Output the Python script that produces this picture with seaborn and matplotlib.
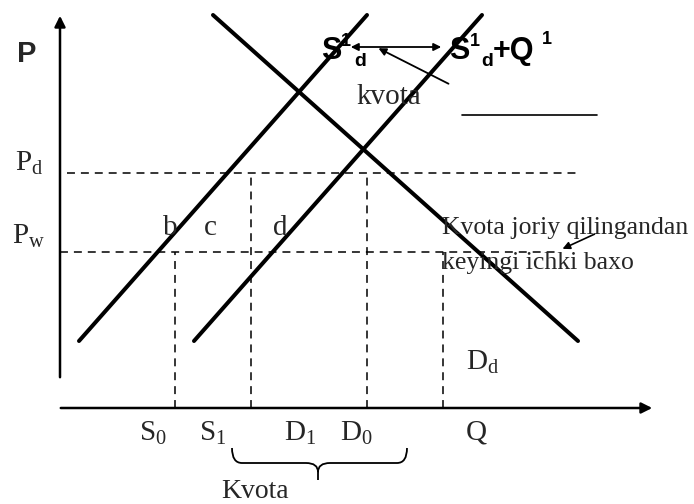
import numpy as np
import pandas as pd
import seaborn as sns
import matplotlib.pyplot as plt
from matplotlib.path import Path
from matplotlib.patches import PathPatch

sns.set_theme(style="white")
plt.rcParams['font.family'] = ['Liberation Serif', 'DejaVu Serif']
plt.rcParams['mathtext.fontset'] = 'custom'
plt.rcParams['mathtext.rm'] = 'Liberation Serif'
plt.rcParams['mathtext.it'] = 'Liberation Serif:italic'
plt.rcParams['mathtext.bf'] = 'Liberation Serif:bold'

# ----------------------------------------------------------
# diagram data (Q to the right, P upward, origin at axes corner)
# ----------------------------------------------------------
supply_q = [19, 307]
supply_p = [67, 393]
supply_quota_q = [134, 422]
supply_quota_p = [67, 393]
demand_q = [153, 518]
demand_p = [393, 67]

p_d = 235
p_w = 156
q_marks = [115, 191, 307, 383]          # S0, S1, D0, Q
q_marks_top = [p_w, p_d, p_d, p_w]
q_labels = ["S$_\\mathrm{0}$", "S$_\\mathrm{1}$", "D$_\\mathrm{1}$",
            "D$_\\mathrm{0}$", "Q"]
q_label_pos = [93, 153, 240, 296, 416]

lines = pd.concat([
    pd.DataFrame({"Q": supply_q, "P": supply_p, "curve": "Sd"}),
    pd.DataFrame({"Q": supply_quota_q, "P": supply_quota_p, "curve": "Sd+Q"}),
    pd.DataFrame({"Q": demand_q, "P": demand_p, "curve": "Dd"}),
])

fig = plt.figure(figsize=(6.94, 5.04), dpi=100)
ax = fig.add_axes([0, 0, 1, 1])
ax.set_xlim(-60, 634)
ax.set_ylim(-96, 408)
ax.axis("off")

# supply and demand lines
sns.lineplot(data=lines, x="Q", y="P", hue="curve", units="curve",
             estimator=None, sort=False, palette=["black"] * 3,
             linewidth=2.9, legend=False, ax=ax)

# axes with arrows
ax.annotate("", xy=(0, 395), xytext=(0, 28),
            arrowprops=dict(arrowstyle="-|>", color="black", lw=1.8,
                            mutation_scale=16))
ax.annotate("", xy=(595, 0), xytext=(-2, 0),
            arrowprops=dict(arrowstyle="-|>", color="black", lw=1.8,
                            mutation_scale=16))

# dashed guide lines
dash = dict(color="black", lw=1.1, dashes=(5.2, 3.9))
ax.plot([7, 520], [p_d, p_d], **dash)
ax.plot([0, 498], [p_w, p_w], **dash)
for q, top in zip(q_marks, q_marks_top):
    ax.plot([q, q], [0, top], **dash)

# labels on the price axis
ax.text(-33, 354, "P", fontsize=21, fontweight="bold",
        family="Liberation Sans", ha="center", va="center")
ax.text(-31, 245, "P$_\\mathrm{d}$", fontsize=21, ha="center", va="center")
ax.text(-31, 172, "P$_\\mathrm{w}$", fontsize=21, ha="center", va="center")
for s, q in zip(["b", "c", "d"], [110, 150, 220]):
    ax.text(q, 180, s, fontsize=21, ha="center", va="center")

# labels on the quantity axis
for s, q in zip(q_labels, q_label_pos):
    ax.text(q, -25, s, fontsize=21, ha="center", va="center")
ax.text(423, 46, "D$_\\mathrm{d}$", fontsize=21, ha="center", va="center")
ax.text(195, -84, "Kvota", fontsize=20, ha="center", va="center")

# brace under the quota
bx = [172, 258, 347]
verts = [(bx[0], -40), (bx[0], -55), (bx[0] + 10, -55), (bx[1] - 12, -55),
         (bx[1], -55), (bx[1], -64), (bx[1], -72),
         (bx[1], -64), (bx[1], -55), (bx[1] + 12, -55),
         (bx[2] - 10, -55), (bx[2], -55), (bx[2], -40)]
codes = [Path.MOVETO, Path.CURVE3, Path.CURVE3, Path.LINETO,
         Path.CURVE3, Path.CURVE3, Path.LINETO,
         Path.MOVETO, Path.CURVE3, Path.CURVE3,
         Path.LINETO, Path.CURVE3, Path.CURVE3]
ax.add_patch(PathPatch(Path(verts, codes), fill=False, lw=1.3, color="black"))

# top labels of the supply curves
sans_b = dict(family="Liberation Sans", fontweight="bold", color="black")
ax.text(271, 357, "S", fontsize=22, ha="center", va="center", **sans_b)
ax.text(286, 366, "1", fontsize=13, ha="center", va="center", **sans_b)
ax.text(300, 346, "d", fontsize=14, ha="center", va="center", **sans_b)
ax.text(399, 357, "S", fontsize=22, ha="center", va="center", **sans_b)
ax.text(415, 366, "1", fontsize=13, ha="center", va="center", **sans_b)
ax.text(427, 346, "d", fontsize=14, ha="center", va="center", **sans_b)
ax.text(433, 357, "+Q", fontsize=22, ha="left", va="center", **sans_b)
ax.text(487, 369, "1", fontsize=13, ha="center", va="center", **sans_b)

ax.annotate("", xy=(288, 361), xytext=(384, 361),
            arrowprops=dict(arrowstyle="<|-|>", color="black", lw=1.3,
                            mutation_scale=11))
ax.annotate("", xy=(316, 361), xytext=(391, 323),
            arrowprops=dict(arrowstyle="-|>", color="black", lw=1.3,
                            mutation_scale=11))
ax.text(329, 311, "kvota", fontsize=21, ha="center", va="center")
ax.plot([402, 537], [293, 293], color="black", lw=1.2)

# note on the post-quota domestic price
ax.text(382, 180, "Kvota joriy qilingandan", fontsize=18.5,
        ha="left", va="center")
ax.text(382, 145, "keyingi ichki baxo", fontsize=18.5,
        ha="left", va="center")
ax.annotate("", xy=(500, 158), xytext=(537, 175),
            arrowprops=dict(arrowstyle="-|>", color="black", lw=1.2,
                            mutation_scale=11))

fig.savefig("out.png", dpi=100)
